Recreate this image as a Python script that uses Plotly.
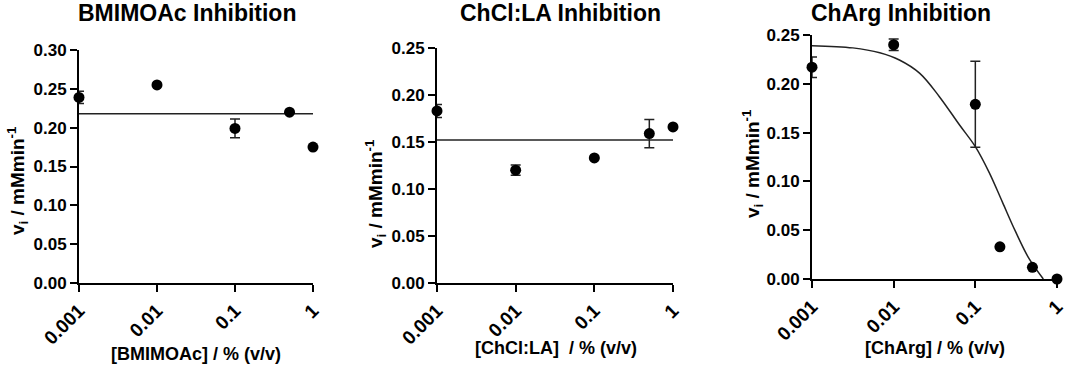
import plotly.graph_objects as go

W, H = 1065, 366

# ---- data ----
conc = [0.001, 0.01, 0.1, 0.5, 1]
bmim_v = [0.239, 0.255, 0.199, 0.220, 0.175]
bmim_err = [0.008, 0, 0.012, 0, 0]
bmim_fit = 0.218

chcl_v = [0.183, 0.120, 0.133, 0.159, 0.166]
chcl_err = [0.007, 0.0055, 0, 0.015, 0]
chcl_fit = 0.152

charg_x = [0.001, 0.01, 0.1, 0.2, 0.5, 1]
charg_v = [0.217, 0.240, 0.179, 0.033, 0.012, 0.0]
charg_err = [0.0105, 0.006, 0.044, 0, 0, 0]
charg_fit_x = [0.001, 0.00316, 0.00676, 0.01175, 0.0209, 0.0363, 0.0638, 0.1, 0.148, 0.214, 0.309, 0.457, 0.68]
charg_fit_y = [0.2391, 0.2368, 0.2318, 0.2244, 0.2107, 0.1868, 0.158, 0.1356, 0.109, 0.079, 0.049, 0.0205, 0.0]

titles = ["BMIMOAc Inhibition", "ChCl:LA Inhibition", "ChArg Inhibition"]
xtitles = ["[BMIMOAc] / % (v/v)", "[ChCl:LA]  / % (v/v)", "[ChArg] / % (v/v)"]
ytitle = "v<sub>i</sub> / mMmin<sup>-1</sup>"
xtick_vals = [0.001, 0.01, 0.1, 1]
xtick_text = ["0.001", "0.01", "0.1", "1"]
y_ranges = [[0, 0.30], [0, 0.25], [0, 0.25]]
y_dticks = [0.05, 0.05, 0.05]

# ---- layout geometry (pixels) ----
xdom_px = [(79, 313), (437, 673), (812, 1057)]
ydom_px = [(283, 50), (283, 48), (279, 35)]
title_pos = [(187, 13), (560, 13), (901, 13)]
xt_pos = [(196, 354), (556, 348), (935, 348)]
yt_pos = [(17, 181), (375, 194), (752, 164)]

FONT = "Liberation Sans, Arial, sans-serif"

def px(x):
    return x / W

def py(y):
    return 1 - y / H

fig = go.Figure()

datasets = [
    (conc, bmim_v, bmim_err),
    (conc, chcl_v, chcl_err),
    (charg_x, charg_v, charg_err),
]

for i, (xs, ys, es) in enumerate(datasets):
    ax = "" if i == 0 else str(i + 1)
    xref, yref = "x" + ax, "y" + ax
    if i == 0:
        fx, fy, shape = [0.001, 1], [bmim_fit, bmim_fit], "linear"
    elif i == 1:
        fx, fy, shape = [0.001, 1], [chcl_fit, chcl_fit], "linear"
    else:
        fx, fy, shape = charg_fit_x, charg_fit_y, "spline"
    fig.add_trace(go.Scatter(
        x=fx, y=fy, mode="lines",
        line=dict(color="#222", width=1.5, shape=shape, smoothing=1.0),
        xaxis=xref, yaxis=yref, showlegend=False, cliponaxis=False, hoverinfo="skip"))
    fig.add_trace(go.Scatter(
        x=xs, y=ys, mode="markers",
        marker=dict(color="black", size=11),
        error_y=dict(type="data", array=es, visible=True, color="#222", thickness=1.5, width=5),
        xaxis=xref, yaxis=yref, showlegend=False, cliponaxis=False))

    xkey = "xaxis" + ax
    ykey = "yaxis" + ax
    fig.layout[xkey] = dict(
        domain=[px(xdom_px[i][0]), px(xdom_px[i][1])],
        type="log", range=[-3, 0], anchor=yref, automargin=False,
        tickvals=xtick_vals, ticktext=xtick_text, tickangle=-45,
        ticklabeloverflow="allow",
        ticks="outside", ticklen=7, tickwidth=2, tickcolor="black",
        showline=True, linecolor="black", linewidth=2,
        showgrid=False, zeroline=False,
        tickfont=dict(family=FONT, size=19, color="black", weight="bold"),
    )
    fig.layout[ykey] = dict(
        domain=[py(ydom_px[i][0]), py(ydom_px[i][1])],
        range=y_ranges[i], anchor=xref, dtick=y_dticks[i], tick0=0,
        tickformat=".2f", automargin=False, ticklabeloverflow="allow",
        ticks="outside", ticklen=7, tickwidth=2, tickcolor="black",
        showline=True, linecolor="black", linewidth=2,
        showgrid=False, zeroline=False,
        tickfont=dict(family=FONT, size=17, color="black", weight="bold"),
    )
    fig.add_annotation(
        x=px(title_pos[i][0]), y=py(title_pos[i][1]), xref="paper", yref="paper",
        text="<b>" + titles[i] + "</b>", showarrow=False, xanchor="center", yanchor="middle",
        font=dict(family=FONT, size=23, color="black"))
    fig.add_annotation(
        x=px(xt_pos[i][0]), y=py(xt_pos[i][1]), xref="paper", yref="paper",
        text="<b>" + xtitles[i] + "</b>", showarrow=False, xanchor="center", yanchor="middle",
        font=dict(family=FONT, size=18, color="black"))
    fig.add_annotation(
        x=px(yt_pos[i][0]), y=py(yt_pos[i][1]), xref="paper", yref="paper",
        text="<b>" + ytitle + "</b>", showarrow=False, xanchor="center", yanchor="middle",
        textangle=-90, font=dict(family=FONT, size=19, color="black"))

fig.update_layout(
    width=W, height=H,
    margin=dict(l=0, r=0, t=0, b=0, autoexpand=False),
    paper_bgcolor="white", plot_bgcolor="white",
    font=dict(family=FONT, color="black"),
)

fig.write_html(
    "out.html",
    config={"displayModeBar": False},
    post_script="document.body.style.margin='0px';document.body.style.overflow='hidden';",
)
